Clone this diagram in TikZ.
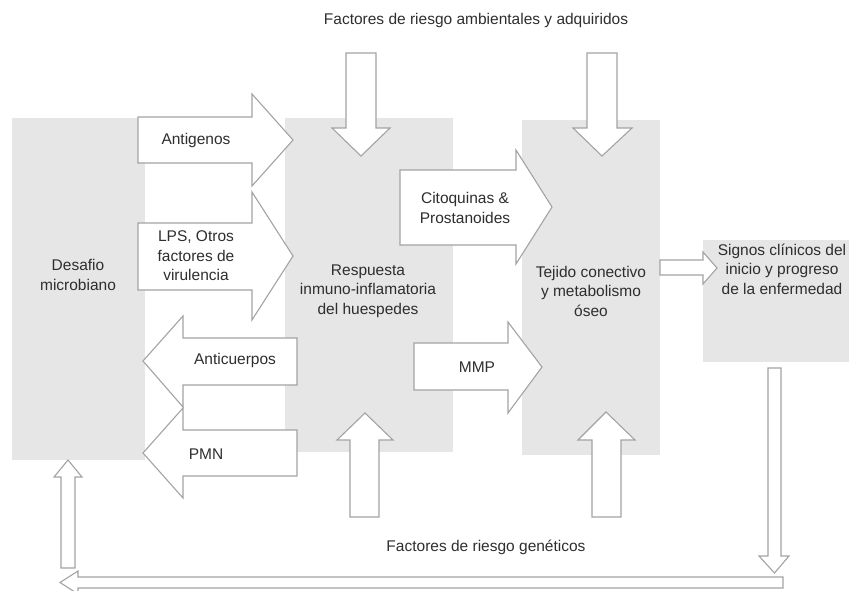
\documentclass[tikz,border=0pt]{standalone}
\usepackage{fontspec}
\setmainfont{Liberation Sans}
\begin{document}
\begin{tikzpicture}[x=1pt,y=-1pt,
  panel/.style={fill=panelgray,draw=none,inner sep=0pt,anchor=north west},
  blockarrow/.style={fill=white,draw=edgegray,line width=1.1pt,line join=miter},
  lbl/.style={text=txtgray,align=center,inner sep=0pt,
    font=\fontsize{15.5}{19.5}\selectfont}]
\definecolor{panelgray}{HTML}{E6E6E7}
\definecolor{edgegray}{HTML}{A3A3A3}
\definecolor{txtgray}{HTML}{2E2E2E}
\useasboundingbox (0,0) rectangle (849,590);

% grey process panels
\node[panel,minimum width=133pt,minimum height=342pt] (desafio) at (12,118) {};
\node[panel,minimum width=168pt,minimum height=334pt] (respuesta) at (285,118) {};
\node[panel,minimum width=138pt,minimum height=335pt] (tejido) at (522,120) {};
\node[panel,minimum width=146pt,minimum height=122pt] (signos) at (703,240) {};

% environmental risk factors (from the top)
\draw[blockarrow] (346,53) -- (376,53) -- (376,128) -- (390,128) -- (361,156)
  -- (332,128) -- (346,128) -- cycle;
\draw[blockarrow] (587,53) -- (617,53) -- (617,128) -- (632,128) -- (602,156)
  -- (573,128) -- (587,128) -- cycle;

% genetic risk factors (from the bottom)
\draw[blockarrow] (350,517) -- (379,517) -- (379,440) -- (393,440) -- (365,413)
  -- (337,440) -- (350,440) -- cycle;
\draw[blockarrow] (592,517) -- (621,517) -- (621,440) -- (635,440) -- (606,412)
  -- (578,440) -- (592,440) -- cycle;

% microbial challenge -> host response
\draw[blockarrow] (138,117) -- (252,117) -- (252,94) -- (293,140) -- (252,186)
  -- (252,163) -- (138,163) -- cycle;
\draw[blockarrow] (138,223) -- (252,223) -- (252,192) -- (293,256) -- (252,320)
  -- (252,290) -- (138,290) -- cycle;

% host response -> microbial challenge
\draw[blockarrow] (297,338) -- (183,338) -- (183,316) -- (143,361) -- (183,407)
  -- (183,385) -- (297,385) -- cycle;
\draw[blockarrow] (297,430) -- (183,430) -- (183,408) -- (143,453) -- (183,498)
  -- (183,476) -- (297,476) -- cycle;

% host response -> connective tissue
\draw[blockarrow] (400,170) -- (516,170) -- (516,150) -- (552,207) -- (516,264)
  -- (516,245) -- (400,245) -- cycle;
\draw[blockarrow] (414,343) -- (508,343) -- (508,322) -- (542,367) -- (508,413)
  -- (508,390) -- (414,390) -- cycle;

% connective tissue -> clinical signs
\draw[blockarrow] (660,260) -- (703,260) -- (703,252) -- (717,268) -- (703,284)
  -- (703,275) -- (660,275) -- cycle;

% feedback loop back to the microbial challenge
\draw[blockarrow] (768,368) -- (781,368) -- (781,556) -- (789,556) -- (774.5,573)
  -- (759,556) -- (768,556) -- cycle;
\draw[blockarrow] (783,577) -- (78,577) -- (78,571) -- (60,582.5) -- (78,594)
  -- (78,588) -- (783,588) -- cycle;
\draw[blockarrow] (61,568) -- (75,568) -- (75,477) -- (82,477) -- (68,460)
  -- (54,477) -- (61,477) -- cycle;

% labels
\node[lbl] (tAmb) at (476,20) {Factores de riesgo ambientales y adquiridos};
\node[lbl] (tGen) at (486,547) {Factores de riesgo genéticos};
\node[lbl] (tDes) at (78,275) {Desafio\\microbiano};
\node[lbl] (tAnt) at (196,140) {Antigenos};
\node[lbl] (tLps) at (196,256) {LPS, Otros\\factores de\\virulencia};
\node[lbl] (tAcu) at (235,360) {Anticuerpos};
\node[lbl] (tPmn) at (206,454) {PMN};
\node[lbl] (tRes) at (368,291) {Respuesta\\inmuno-inflamatoria\\del huespedes};
\node[lbl] (tCit) at (465,208) {Citoquinas \&\\Prostanoides};
\node[lbl] (tMmp) at (477,367) {MMP};
\node[lbl] (tTej) at (591,291) {Tejido conectivo\\y metabolismo\\óseo};
\node[lbl] (tSig) at (782,269) {Signos clínicos del\\inicio y progreso\\de la enfermedad};
\end{tikzpicture}
\end{document}
